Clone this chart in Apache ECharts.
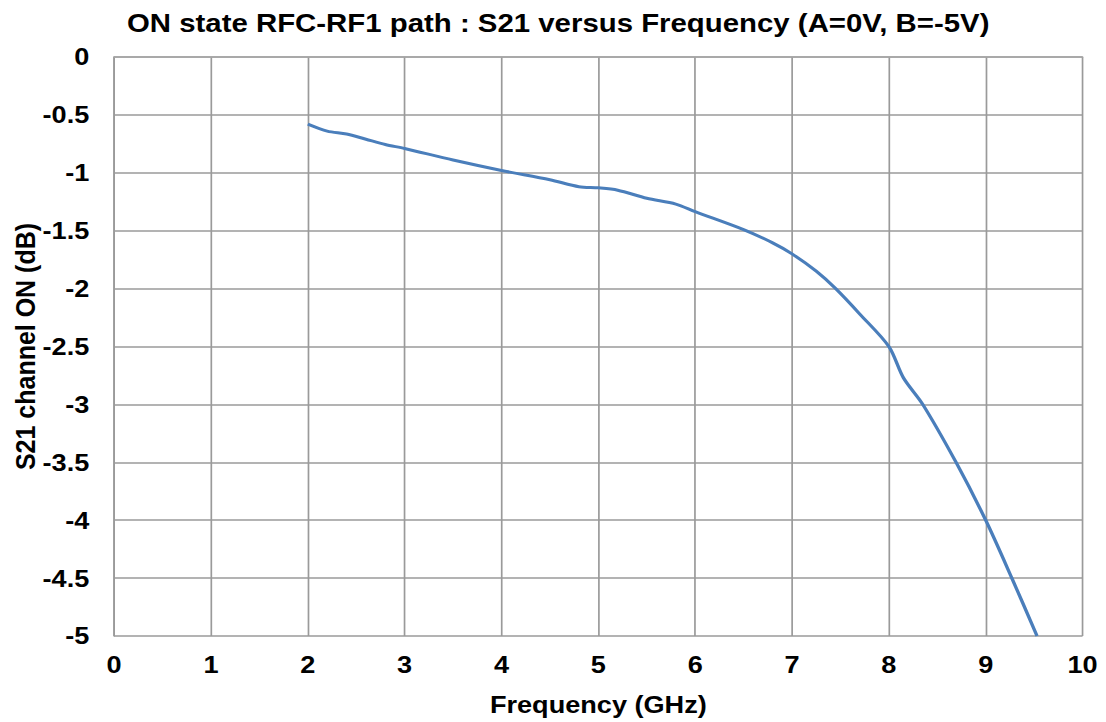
<!DOCTYPE html>
<html>
<head>
<meta charset="utf-8">
<script src="https://cdn.jsdelivr.net/npm/echarts@6/dist/echarts.min.js"></script>
<style>
html,body{margin:0;padding:0;background:#fff;overflow:hidden;}
#wrap{width:1106px;height:722px;overflow:hidden;}
#chart{width:979px;height:722px;transform:scaleX(1.13);transform-origin:0 0;}
</style>
</head>
<body>
<div id="wrap"><div id="chart"></div></div>
<script>
const titleText = 'ON state RFC-RF1 path : S21 versus Frequency (A=0V, B=-5V)';
const xName = 'Frequency (GHz)';
const yName = 'S21 channel ON (dB)';
const freqGHz = [2.0, 2.2, 2.4, 2.6, 2.8, 3.0, 3.5, 4.0, 4.5, 4.8, 5.0, 5.2, 5.5, 5.8, 6.0, 6.5, 6.8, 7.0, 7.25, 7.45, 7.7, 8.0, 8.15, 8.35, 8.7, 9.0, 9.27, 9.53];
const s21dB = [-0.58, -0.64, -0.665, -0.71, -0.755, -0.79, -0.89, -0.98, -1.06, -1.12, -1.13, -1.15, -1.22, -1.27, -1.335, -1.49, -1.605, -1.70, -1.85, -2.00, -2.22, -2.50, -2.77, -3.0, -3.51, -4.0, -4.5, -5.0];

const chart = echarts.init(document.getElementById('chart'), null, {renderer: 'svg'});
const font = 'Liberation Sans, Arial, sans-serif';
chart.setOption({
  animation: false,
  backgroundColor: '#ffffff',
  title: {
    text: titleText,
    left: 489, top: 5, textAlign: 'center',
    textStyle: {fontFamily: font, fontSize: 26, fontWeight: 'bold', color: '#000'}
  },
  grid: {left: 101, right: 21, top: 57, bottom: 86, containLabel: false, outerBoundsMode: 'none'},
  xAxis: {
    type: 'value', min: 0, max: 10, interval: 1,
    name: xName, nameLocation: 'middle', nameGap: 57, nameMoveOverlap: false,
    nameTextStyle: {fontFamily: font, fontSize: 24, fontWeight: 'bold', color: '#000'},
    axisLine: {show: true, lineStyle: {color: '#a6a6a6', width: 1.5}},
    axisTick: {show: false},
    axisLabel: {fontFamily: font, fontSize: 24, fontWeight: 'bold', color: '#000', margin: 17},
    splitLine: {show: true, lineStyle: {color: '#9a9a9a', width: 1.5}}
  },
  yAxis: {
    type: 'value', min: -5, max: 0, interval: 0.5,
    name: yName, nameLocation: 'middle', nameGap: 66, nameRotate: 90, nameMoveOverlap: false,
    nameTextStyle: {fontFamily: font, fontSize: 25, fontWeight: 'bold', color: '#000'},
    axisLine: {show: true, lineStyle: {color: '#9a9a9a', width: 1.5}},
    axisTick: {show: false},
    axisLabel: {fontFamily: font, fontSize: 24, fontWeight: 'bold', color: '#000', margin: 22},
    splitLine: {show: true, lineStyle: {color: '#9a9a9a', width: 1.5}}
  },
  series: [{
    type: 'line',
    data: freqGHz.map((f, i) => [f, s21dB[i]]),
    smooth: 0.3,
    showSymbol: false,
    lineStyle: {color: '#4a7ebb', width: 3},
    clip: true
  }]
});
</script>
</body>
</html>
